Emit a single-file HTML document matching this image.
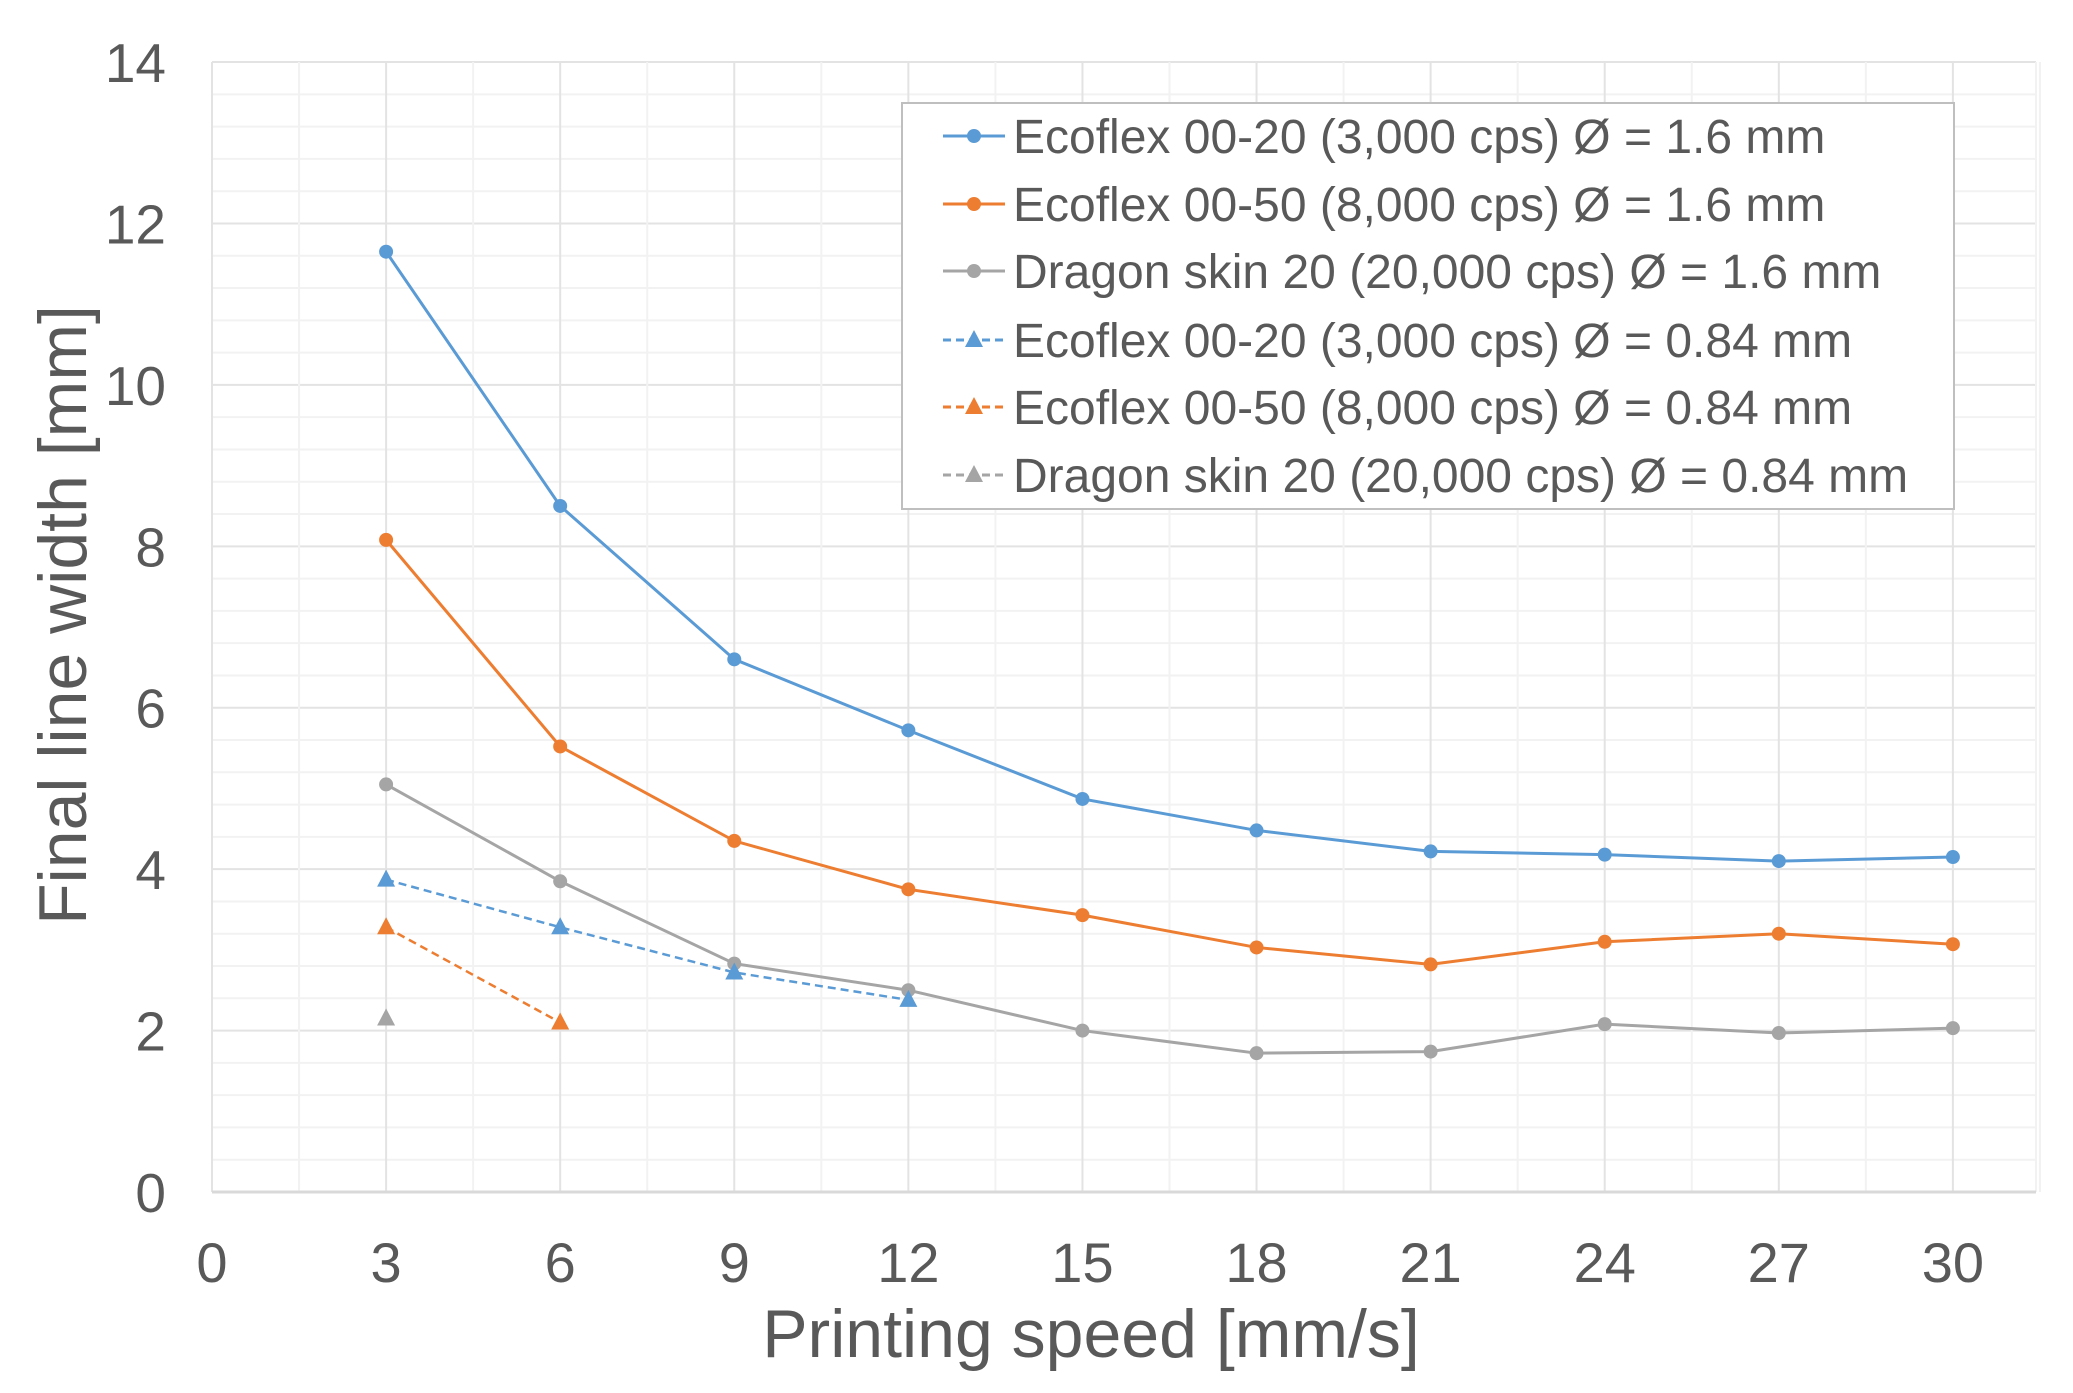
<!DOCTYPE html>
<html><head><style>body{margin:0;background:#fff}svg{display:block}text{font-family:"Liberation Sans",sans-serif;fill:#595959}</style></head>
<body>
<svg width="2073" height="1393" viewBox="0 0 2073 1393" xmlns="http://www.w3.org/2000/svg">
<g id="grid"></g>
<g id="series"></g>
<g id="lbl"></g>
<g font-size="48">
<rect x="902" y="103" width="1052" height="406" fill="#fff" stroke="#bfbfbf" stroke-width="2"/>
<g id="leg"></g>
</g>
<script>
const X=v=>212+v*58.03, Y=v=>1192-v*80.71;
const ns="http://www.w3.org/2000/svg";
function el(p,t,a,txt){const e=document.createElementNS(ns,t);for(const k in a)e.setAttribute(k,a[k]);if(txt!==undefined)e.textContent=txt;document.getElementById(p).appendChild(e);return e;}
for(let v=0;v<=14.001;v+=0.4){const maj=Math.abs(v/2-Math.round(v/2))<1e-6;el('grid','line',{x1:212,x2:2036,y1:Y(v),y2:Y(v),stroke:maj?'#e3e3e3':'#f2f2f2','stroke-width':2});}
for(let v=0;v<=31.5;v+=1.5){const maj=Math.abs(v/3-Math.round(v/3))<1e-6;el('grid','line',{x1:X(v),x2:X(v),y1:62,y2:1192,stroke:maj?'#e3e3e3':'#f2f2f2','stroke-width':2});}
el('grid','line',{x1:2036,x2:2036,y1:62,y2:1192,stroke:'#f2f2f2','stroke-width':2});
el('grid','line',{x1:212,x2:2036,y1:1192,y2:1192,stroke:'#d9d9d9','stroke-width':3});
for(let v=0;v<=14;v+=2)el('lbl','text',{x:166,y:Y(v)+20,'text-anchor':'end','font-size':55},v);
for(let v=0;v<=30;v+=3)el('lbl','text',{x:X(v),y:1282,'text-anchor':'middle','font-size':56},v);
el('lbl','text',{x:1091,y:1357,'text-anchor':'middle','font-size':68},'Printing speed [mm/s]');
el('lbl','text',{x:0,y:0,'text-anchor':'middle','font-size':68,transform:'translate(86,615) rotate(-90)'},'Final line width [mm]');
const B='#5b9bd5',O='#ed7d31',G='#a5a5a5';
const S=[
[B,[11.65,8.5,6.6,5.72,4.87,4.48,4.22,4.18,4.1,4.15],0],
[O,[8.08,5.52,4.35,3.75,3.43,3.03,2.82,3.1,3.2,3.07],0],
[G,[5.05,3.85,2.83,2.5,2.0,1.72,1.74,2.08,1.97,2.03],0],
[B,[3.87,3.28,2.72,2.38],1],
[O,[3.28,2.1],1],
[G,[2.15],1]];
function mark(p,x,y,c,tri){if(tri)el(p,'polygon',{points:`${x},${y-10} ${x-9},${y+7} ${x+9},${y+7}`,fill:c});else el(p,'circle',{cx:x,cy:y,r:7,fill:c});}
S.forEach(([c,d,tri])=>{const pts=d.map((v,i)=>X(3+3*i)+','+Y(v)).join(' ');el('series','polyline',{points:pts,fill:'none',stroke:c,'stroke-width':tri?2.5:3,'stroke-dasharray':tri?'8,5':'none'});d.forEach((v,i)=>mark('series',X(3+3*i),Y(v),c,tri));});
const names=['Ecoflex 00-20 (3,000 cps) Ø = 1.6 mm','Ecoflex 00-50 (8,000 cps) Ø = 1.6 mm','Dragon skin 20 (20,000 cps) Ø = 1.6 mm','Ecoflex 00-20 (3,000 cps) Ø = 0.84 mm','Ecoflex 00-50 (8,000 cps) Ø = 0.84 mm','Dragon skin 20 (20,000 cps) Ø = 0.84 mm'];
const ly=[136,204,271,340,407,475];
S.forEach(([c,d,tri],i)=>{el('leg','line',{x1:943,x2:1005,y1:ly[i],y2:ly[i],stroke:c,'stroke-width':3,'stroke-dasharray':tri?'8,5':'none'});mark('leg',974,ly[i],c,tri);el('leg','text',{x:1013,y:ly[i]+17},names[i]);});
</script>
</svg>
</body></html>
